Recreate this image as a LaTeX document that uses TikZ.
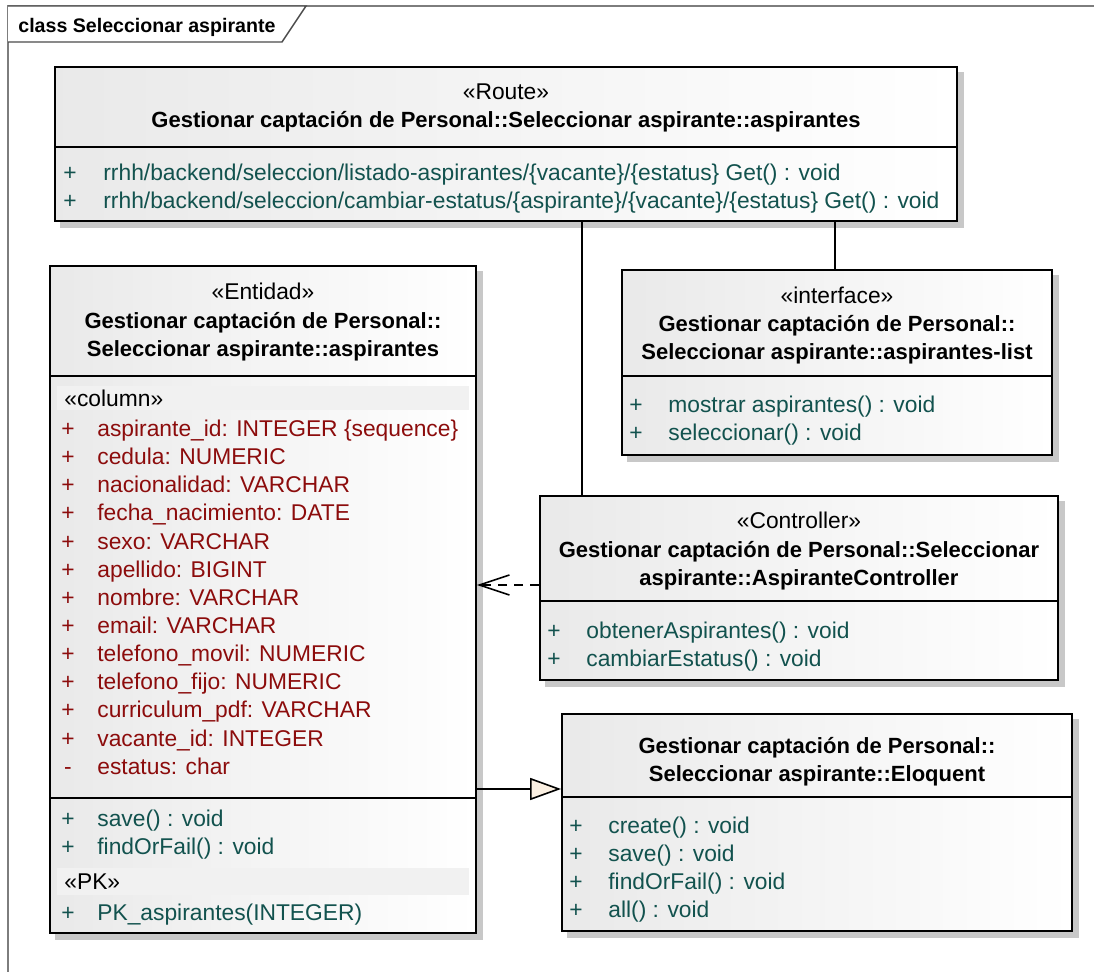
\documentclass[tikz,border=0pt]{standalone}
\usepackage{fontspec}
\setmainfont{Liberation Sans}
\usetikzlibrary{
	arrows.meta,
	calc,
	backgrounds,
	positioning,
	fit
}
\definecolor{OpTeal}{RGB}{18,82,78}
\definecolor{AttrRed}{RGB}{140,12,12}
\definecolor{FrameGray}{RGB}{125,125,125}
\definecolor{ShadowGray}{RGB}{200,200,200}
\definecolor{BandGray}{RGB}{241,241,241}
\definecolor{TipBeige}{RGB}{251,240,226}

\tikzset{
	classbox/.style={draw, line width=0.9pt, inner sep=0pt, left color=gray!17, right color=white},
	sepline/.style={line width=0.8pt},
	txt/.style={inner sep=0pt, text height=10pt, text depth=1.5pt},
	stereo/.style={txt},
	classname/.style={inner sep=0pt, font=\fontsize{11}{14}\selectfont\bfseries, align=center},
	attrsign/.style={txt, text=AttrRed},
	attrtext/.style={txt, text=AttrRed, anchor=west},
	opsign/.style={txt, text=OpTeal},
	optext/.style={txt, text=OpTeal, anchor=west},
	bandtext/.style={txt, anchor=west},
	assoc/.style={line width=0.8pt},
	depend/.style={line width=0.8pt, dash pattern=on 4.5pt off 3.5pt, -{Straight Barb[length=15pt, width=10pt, line width=0.8pt]}},
	generalize/.style={line width=0.8pt, -{Triangle[open, fill=TipBeige, length=15.5pt, width=11pt, line width=0.8pt]}}
}

\begin{document}
\begin{tikzpicture}[x=0.5pt, y=-0.5pt, font=\fontsize{11.4}{14}\selectfont]
	\useasboundingbox (0,0) rectangle (1094,972);
	
	% marco del diagrama
	\draw[FrameGray, line width=1pt] (8,972) -- (8,6) -- (1094,6);
	\draw[FrameGray!60!black, line width=0.7pt, fill=white] (8,6) -- (306,6) -- (282,42) -- (8,42);
	\node[txt, font=\fontsize{9.8}{14}\selectfont\bfseries, anchor=west] (frametitle) at (18,24) {class Seleccionar aspirante};
	
	% clases
	\node[classbox, fit={(55,67) (957,221)}] (route) {};
	\node[classbox, fit={(50,266) (476,933)}] (entidad) {};
	\node[classbox, fit={(622,270) (1052,455)}] (iface) {};
	\node[classbox, fit={(540,496) (1058,680)}] (controller) {};
	\node[classbox, fit={(562,714) (1072,931)}] (eloquent) {};
	
	% sombras
	\begin{scope}[on background layer]
		\foreach \b in {route,entidad,iface,controller,eloquent}
			\fill[ShadowGray] ([shift={(6,6)}]\b.south west) rectangle ([shift={(6,6)}]\b.north east);
	\end{scope}
	
	% Route
	\node[stereo] (route-st) at (506,91) {«Route»};
	\node[classname] (route-name) at (506,121.5) {Gestionar captación de Personal::Seleccionar aspirante::aspirantes};
	\draw[sepline] (route.west |- 0,147) -- (route.east |- 0,147);
	\node[opsign] (route-p1) at (70,172) {+};
	\node[optext] (route-o1) at (103,172) {rrhh/backend/seleccion/listado-aspirantes/\{vacante\}/\{estatus\} Get() : void};
	\node[opsign] (route-p2) at (70,200) {+};
	\node[optext] (route-o2) at (103,200) {rrhh/backend/seleccion/cambiar-estatus/\{aspirante\}/\{vacante\}/\{estatus\} Get() : void};
	
	% Entidad
	\node[stereo] (ent-st) at (263,291) {«Entidad»};
	\node[classname] (ent-name) at (263,336.5) {Gestionar captación de Personal::\\Seleccionar aspirante::aspirantes};
	\draw[sepline] (entidad.west |- 0,376) -- (entidad.east |- 0,376);
	\fill[BandGray] (57,386) rectangle (469,410);
	\node[bandtext] (ent-col) at (64,398) {«column»};
	\foreach \vis/\attr [count=\i from 0] in {
		+/aspirante\_id: INTEGER \{sequence\},
		+/cedula: NUMERIC,
		+/nacionalidad: VARCHAR,
		+/fecha\_nacimiento: DATE,
		+/sexo: VARCHAR,
		+/apellido: BIGINT,
		+/nombre: VARCHAR,
		+/email: VARCHAR,
		+/telefono\_movil: NUMERIC,
		+/telefono\_fijo: NUMERIC,
		+/curriculum\_pdf: VARCHAR,
		+/vacante\_id: INTEGER,
		-/estatus: char}
	{
		\node[attrsign] (ent-s\i) at (68,428+\i*28.15) {\vis};
		\node[attrtext] (ent-a\i) at (97,428+\i*28.15) {\attr};
	}
	\draw[sepline] (entidad.west |- 0,798) -- (entidad.east |- 0,798);
	\node[opsign] (ent-p1) at (68,818) {+};
	\node[optext] (ent-o1) at (97,818) {save() : void};
	\node[opsign] (ent-p2) at (68,846) {+};
	\node[optext] (ent-o2) at (97,846) {findOrFail() : void};
	\fill[BandGray] (57,868) rectangle (469,895);
	\node[bandtext] (ent-pk) at (64,881) {«PK»};
	\node[opsign] (ent-p3) at (68,912) {+};
	\node[optext] (ent-o3) at (97,912) {PK\_aspirantes(INTEGER)};
	
	% interface
	\node[stereo] (if-st) at (837,295) {«interface»};
	\node[classname] (if-name) at (837,339.5) {Gestionar captación de Personal::\\Seleccionar aspirante::aspirantes-list};
	\draw[sepline] (iface.west |- 0,376) -- (iface.east |- 0,376);
	\node[opsign] (if-p1) at (636,404) {+};
	\node[optext] (if-o1) at (668,404) {mostrar aspirantes() : void};
	\node[opsign] (if-p2) at (636,432) {+};
	\node[optext] (if-o2) at (668,432) {seleccionar() : void};
	
	% Controller
	\node[stereo] (ctl-st) at (799,520) {«Controller»};
	\node[classname] (ctl-name) at (799,566) {Gestionar captación de Personal::Seleccionar\\aspirante::AspiranteController};
	\draw[sepline] (controller.west |- 0,601) -- (controller.east |- 0,601);
	\node[opsign] (ctl-p1) at (554,630) {+};
	\node[optext] (ctl-o1) at (586,630) {obtenerAspirantes() : void};
	\node[opsign] (ctl-p2) at (554,658) {+};
	\node[optext] (ctl-o2) at (586,658) {cambiarEstatus() : void};
	
	% Eloquent
	\node[classname] (elo-name) at (817,761.5) {Gestionar captación de Personal::\\Seleccionar aspirante::Eloquent};
	\draw[sepline] (eloquent.west |- 0,797) -- (eloquent.east |- 0,797);
	\foreach \op [count=\i from 0] in {create() : void, save() : void, findOrFail() : void, all() : void}
	{
		\node[opsign] (elo-p\i) at (576,825+\i*28) {+};
		\node[optext] (elo-o\i) at (608,825+\i*28) {\op};
	}
	
	% relaciones
	\draw[assoc] (route.south -| 582,0) -- (controller.north -| 582,0);
	\draw[assoc] (route.south -| 835,0) -- (iface.north -| 835,0);
	\draw[depend] (controller.west |- 0,585) -- (entidad.east |- 0,585);
	\draw[generalize] (entidad.east |- 0,789) -- (eloquent.west |- 0,789);
\end{tikzpicture}
\end{document}
